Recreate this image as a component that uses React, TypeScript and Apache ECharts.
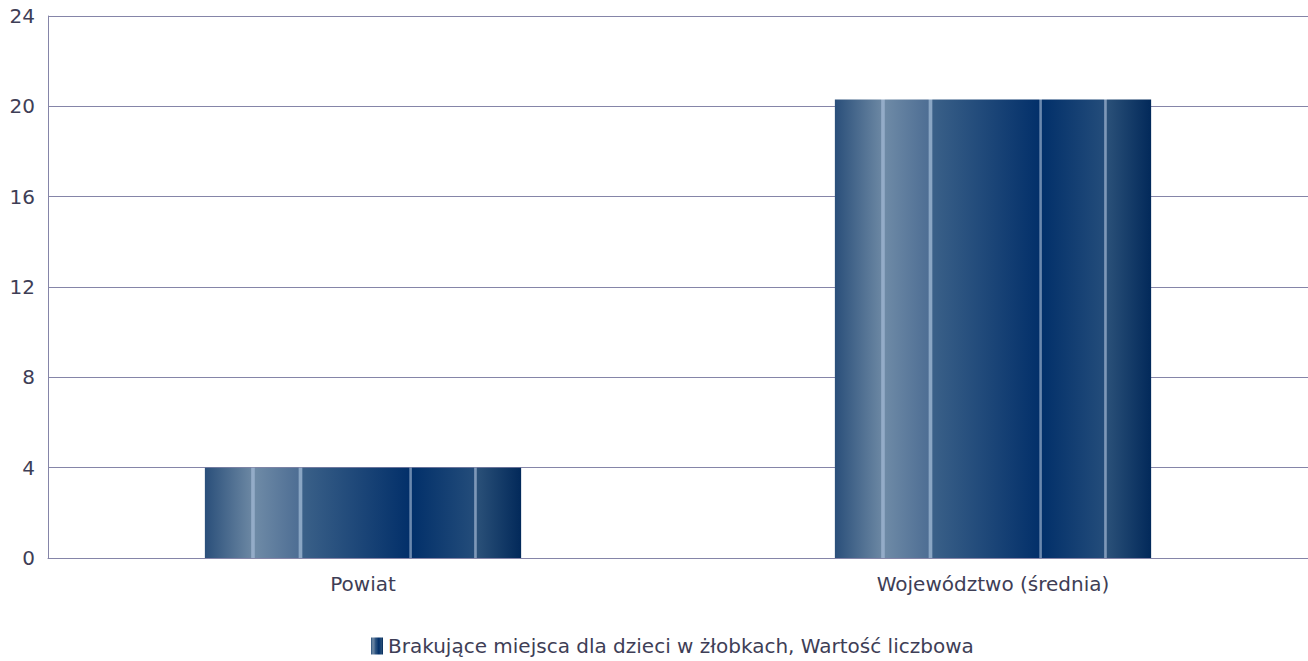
import React, { useEffect, useRef } from "react";
import * as echarts from "echarts";

const categories = ["Powiat", "Województwo (średnia)"];
const values = [4.0, 20.3];
const seriesName = "Brakujące miejsca dla dzieci w żłobkach, Wartość liczbowa";
const yTicks = { min: 0, max: 24, interval: 4 };

const stops = [
  { offset: 0, color: "#2a4f7a" },
  { offset: 0.145, color: "#6a86a2" },
  { offset: 0.148, color: "#94acc8" },
  { offset: 0.156, color: "#94acc8" },
  { offset: 0.16, color: "#6e8aa6" },
  { offset: 0.295, color: "#4e6e94" },
  { offset: 0.298, color: "#8aa6c4" },
  { offset: 0.306, color: "#8aa6c4" },
  { offset: 0.31, color: "#3a6088" },
  { offset: 0.645, color: "#03306a" },
  { offset: 0.648, color: "#6a88ae" },
  { offset: 0.653, color: "#6a88ae" },
  { offset: 0.656, color: "#02306a" },
  { offset: 0.85, color: "#234c7a" },
  { offset: 0.853, color: "#7e98b8" },
  { offset: 0.858, color: "#7e98b8" },
  { offset: 0.862, color: "#2a5078" },
  { offset: 1, color: "#02295a" },
];

const FONT = "DejaVu Sans";
const TEXT_COLOR = "#3e3e56";

export default function App() {
  const ref = useRef<HTMLDivElement>(null);
  useEffect(() => {
    if (!ref.current) return;
    const chart = echarts.init(ref.current, null, { renderer: "svg" });
    const grad = new echarts.graphic.LinearGradient(0, 0, 1, 0, stops);
    chart.setOption({
      animation: false,
      textStyle: { fontFamily: FONT },
      grid: { left: 48, right: -4, top: 16, bottom: 103, containLabel: false },
      legend: {
        bottom: 0,
        left: 366,
        itemWidth: 12,
        itemHeight: 17,
        itemGap: 6,
        textStyle: { fontSize: 20, color: TEXT_COLOR, fontFamily: FONT },
        data: [{ name: seriesName, icon: "rect" }],
      },
      xAxis: {
        type: "category",
        data: categories,
        axisLine: { show: true, lineStyle: { color: "#8585a8", width: 1 } },
        axisTick: { show: false },
        axisLabel: { color: TEXT_COLOR, fontSize: 20, margin: 16, fontFamily: FONT },
        splitLine: { show: false },
      },
      yAxis: {
        type: "value",
        min: yTicks.min,
        max: yTicks.max,
        interval: yTicks.interval,
        axisLine: { show: true, lineStyle: { color: "#8585a8", width: 1 } },
        axisTick: { show: false },
        axisLabel: {
          color: TEXT_COLOR,
          fontSize: 20,
          margin: 13,
          fontFamily: FONT,
          padding: [4, 0, 0, 0],
        },
        splitLine: { show: true, lineStyle: { color: "#8585a8", width: 1 } },
      },
      series: [
        {
          name: seriesName,
          type: "bar",
          data: values,
          barWidth: "50.2%",
          itemStyle: { color: grad },
        },
      ],
    });
    return () => chart.dispose();
  }, []);
  return (
    <div
      ref={ref}
      style={{ position: "fixed", left: 0, top: 0, width: 1308, height: 661, background: "#fff" }}
    />
  );
}
